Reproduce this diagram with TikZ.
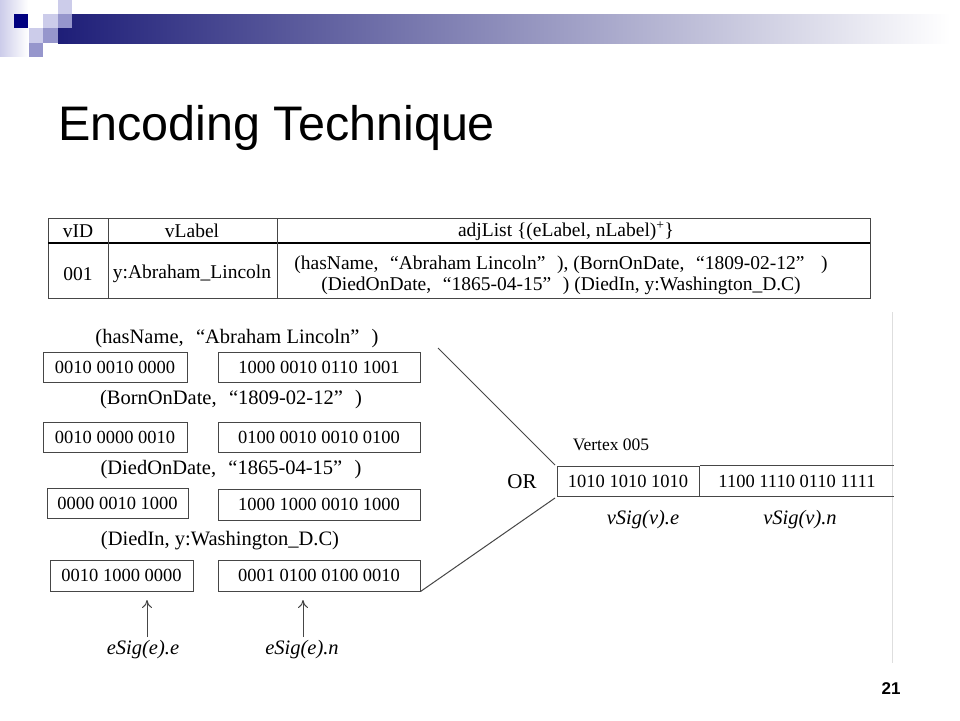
\documentclass[tikz,border=0pt]{standalone}
\usepackage{fontspec}
\setmainfont{Liberation Serif}
\newfontfamily\arialf{Liberation Sans}
\usetikzlibrary{arrows.meta}
\newcommand\oq{\hspace{0.6em}“}
\newcommand\cq{”\hspace{0.6em}}
\definecolor{slnavy}{RGB}{0,0,128}
\definecolor{barnavy}{RGB}{30,30,120}
\definecolor{barmid}{RGB}{150,150,180}
\definecolor{slmed}{RGB}{150,150,204}
\definecolor{sllight}{RGB}{204,204,234}
\definecolor{lnclr}{RGB}{70,70,70}
\begin{document}
\begin{tikzpicture}[x=1pt,y=-1pt,
  bx/.style={draw=lnclr, line width=1pt, inner sep=0pt, font=\fontsize{18.5}{21}\selectfont},
  lbl/.style={inner sep=0pt, font=\fontsize{20.5}{24}\selectfont},
  tbl/.style={inner sep=0pt, font=\fontsize{19.5}{23}\selectfont},
  sig/.style={inner sep=0pt, font=\fontsize{20.5}{24}\selectfont\itshape},
  ln/.style={draw=lnclr, line width=1pt},
  arr/.style={draw=lnclr, line width=1pt, -{To[length=8pt,width=10pt]}}]
\useasboundingbox (0,0) rectangle (960,720);
\fill[white] (0,0) rectangle (960,720);
% top decoration
\shade[left color=sllight, right color=white] (0,0) rectangle (28,56);
\shade[left color=barnavy, middle color=barmid, right color=white] (58,14) rectangle (950,43);
\fill[sllight] (58,0) rectangle (72,14);
\fill[slnavy] (14,14) rectangle (28,28);
\fill[sllight] (43,14) rectangle (58,28);
\fill[slmed] (58,14) rectangle (72,28);
\fill[sllight] (29,28) rectangle (43,43);
\fill[slmed] (43,28) rectangle (58,43);
\fill[slmed] (29,43) rectangle (43,57);
% title
\node[anchor=base west, inner sep=0pt, font=\arialf\fontsize{48.5}{56}\selectfont] (title) at (58,140) {Encoding Technique};
% page number
\node[inner sep=0pt, font=\arialf\bfseries\fontsize{17}{20}\selectfont] (pnum) at (891,689) {21};
% faint right line
\draw[black!13, line width=0.8pt] (892,312) -- (892,663);
% table
\draw[ln] (48,218) rectangle (870,298);
\draw[draw=black, line width=1.8pt] (48,243) -- (870,243);
\draw[ln] (108,218) -- (108,298);
\draw[ln] (277,218) -- (277,298);
\node[tbl] (hid) at (78,231) {vID};
\node[tbl] (hlab) at (192,231) {vLabel};
\node[tbl] (hadj) at (566,231) {adjList \{(eLabel, nLabel)\textsuperscript{+}\}};
\node[tbl] (rid) at (78,274) {001};
\node[tbl] (rlab) at (192,274) {y:Abraham\_Lincoln};
\node[tbl] (radj1) at (561,265) {(hasName,\oq Abraham Lincoln\cq), (BornOnDate,\oq 1809-02-12\cq\ )};
\node[tbl] (radj2) at (561,286) {(DiedOnDate,\oq 1865-04-15\cq) (DiedIn, y:Washington\_D.C)};
% edge labels
\node[lbl] (l1) at (237,339) {(hasName,\oq Abraham Lincoln\cq)};
\node[lbl] (l2) at (231,400) {(BornOnDate,\oq 1809-02-12\cq)};
\node[lbl] (l3) at (231,470) {(DiedOnDate,\oq 1865-04-15\cq)};
\node[lbl] (l4) at (220,541) {(DiedIn, y:Washington\_D.C)};
% boxes
\node[bx, minimum width=144, minimum height=30] (b1l) at (115,367) {0010 0010 0000};
\node[bx, minimum width=202, minimum height=30] (b1r) at (319,367) {1000 0010 0110 1001};
\node[bx, minimum width=144, minimum height=30] (b2l) at (115,437) {0010 0000 0010};
\node[bx, minimum width=202, minimum height=30] (b2r) at (319,437) {0100 0010 0010 0100};
\node[bx, minimum width=141, minimum height=30] (b3l) at (117.5,503) {0000 0010 1000};
\node[bx, minimum width=202, minimum height=31] (b3r) at (319,504.5) {1000 1000 0010 1000};
\node[bx, minimum width=143, minimum height=31] (b4l) at (121.5,575.5) {0010 1000 0000};
\node[bx, minimum width=202, minimum height=31] (b4r) at (319,575.5) {0001 0100 0100 0010};
% esig labels and arrows
\node[sig] (se) at (143,650) {eSig(e).e};
\node[sig] (sn) at (302,650) {eSig(e).n};
\coordinate (ae0) at (147,637);
\coordinate (ae1) at (147,600);
\coordinate (an0) at (303,637);
\coordinate (an1) at (303,600);
\draw[arr] (ae0) -- (ae1);
\draw[arr] (an0) -- (an1);
% OR and vertex
\node[inner sep=0pt, font=\fontsize{21}{24}\selectfont] (or) at (522,482) {OR};
\node[inner sep=0pt, font=\fontsize{17.5}{20}\selectfont] (vt) at (611,445) {Vertex 005};
\node[bx, minimum width=142, minimum height=30] (vL) at (628,481) {1010 1010 1010};
\node[inner sep=0pt, minimum width=193, minimum height=30, font=\fontsize{18.5}{21}\selectfont] (vR) at (797,481) {1100 1110 0110 1111};
\draw[ln] (vR.north west) -- (vR.north east);
\draw[ln] (vR.south west) -- (vR.south east);
\node[sig] (ve) at (643,520) {vSig(v).e};
\node[sig] (vn) at (800,520) {vSig(v).n};
\coordinate (t0) at (438,348);
\coordinate (t1) at (555,465);
\coordinate (u1) at (555,498);
\draw[ln] (t0) -- (t1);
\draw[ln] (b4r.south east) -- (u1);
\end{tikzpicture}
\end{document}
